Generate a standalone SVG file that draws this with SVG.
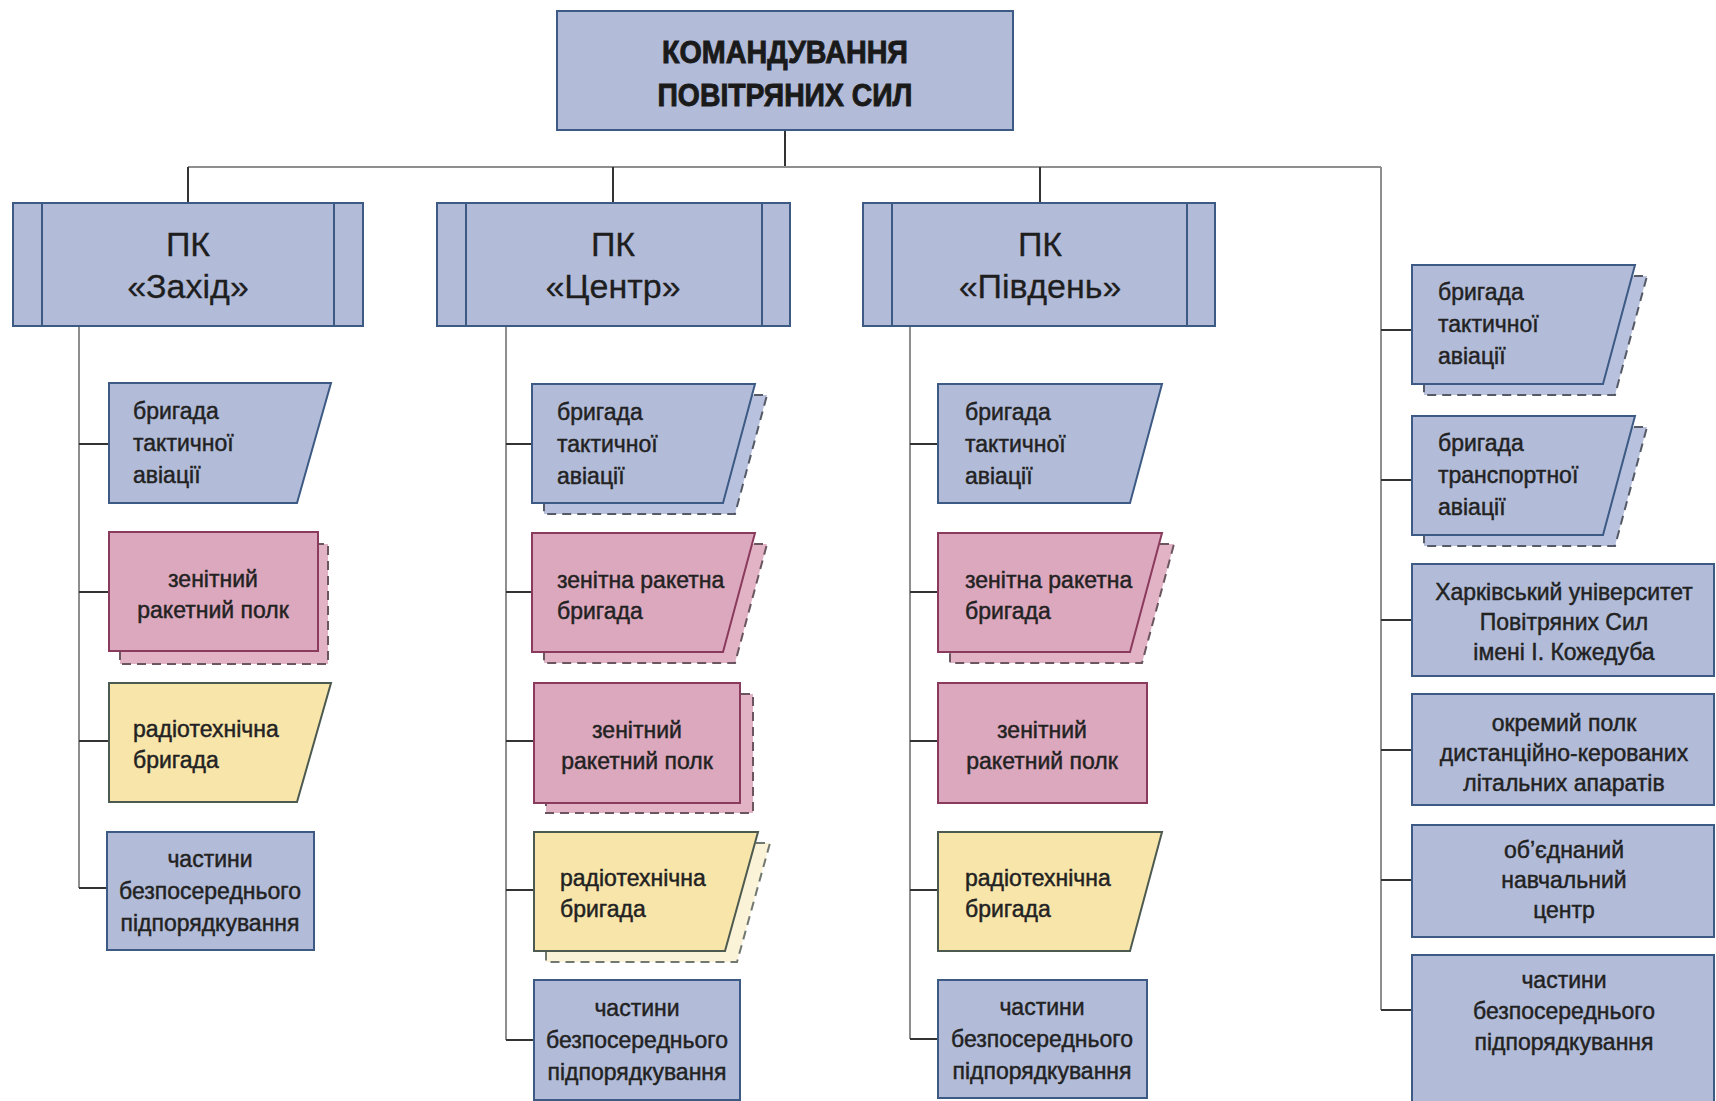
<svg xmlns="http://www.w3.org/2000/svg" width="1716" height="1101" viewBox="0 0 1716 1101">
<style>
  .bg{fill:#ffffff}
  .blue{fill:#b2bcd9;stroke:#3d5a84;stroke-width:2}
  .pink{fill:#dca8bd;stroke:#8a3a5c;stroke-width:2}
  .yellow{fill:#f8e5aa;stroke:#4c5a50;stroke-width:2}
  .sh-blue{fill:#b8c2de;stroke:#555a66;stroke-width:2;stroke-dasharray:9 6}
  .sh-pink{fill:#e1b3c5;stroke:#6a5560;stroke-width:2;stroke-dasharray:9 6}
  .sh-yellow{fill:#fbf3d8;stroke:#707870;stroke-width:2;stroke-dasharray:9 6}
  .inner{stroke:#3d5a84;stroke-width:2}
  .spine{stroke:#8e8e8e;stroke-width:2;fill:none}
  .stub{stroke:#333333;stroke-width:2;fill:none}
  text{font-family:"Liberation Sans",Arial,sans-serif;fill:#222;font-size:23px;stroke:#222;stroke-width:0.45}
  .c{text-anchor:middle}
  .pk{font-size:34px;text-anchor:middle;fill:#1e1e1e;stroke:#1e1e1e;stroke-width:0.3}
  .title{font-size:31px;font-weight:bold;text-anchor:middle;fill:#1a1a1a;stroke:#1a1a1a;stroke-width:0.9}
</style>
<rect class="bg" x="0" y="0" width="1716" height="1101"/>

<g id="connectors">
  <line class="stub" x1="785" y1="130" x2="785" y2="167"/>
  <line class="spine" x1="188" y1="167" x2="1381" y2="167"/>
  <line class="stub" x1="188" y1="167" x2="188" y2="203"/>
  <line class="stub" x1="613" y1="167" x2="613" y2="203"/>
  <line class="stub" x1="1040" y1="167" x2="1040" y2="203"/>
  <line class="spine" x1="1381" y1="167" x2="1381" y2="1010"/>
  <line class="spine" x1="79" y1="326" x2="79" y2="888"/>
  <line class="stub" x1="79" y1="444" x2="109" y2="444"/>
  <line class="stub" x1="79" y1="592" x2="109" y2="592"/>
  <line class="stub" x1="79" y1="741" x2="109" y2="741"/>
  <line class="stub" x1="79" y1="888" x2="107" y2="888"/>
  <line class="spine" x1="506" y1="326" x2="506" y2="1040"/>
  <line class="stub" x1="506" y1="444" x2="532" y2="444"/>
  <line class="stub" x1="506" y1="592" x2="532" y2="592"/>
  <line class="stub" x1="506" y1="741" x2="534" y2="741"/>
  <line class="stub" x1="506" y1="890" x2="534" y2="890"/>
  <line class="stub" x1="506" y1="1040" x2="534" y2="1040"/>
  <line class="spine" x1="910" y1="326" x2="910" y2="1039"/>
  <line class="stub" x1="910" y1="444" x2="938" y2="444"/>
  <line class="stub" x1="910" y1="592" x2="938" y2="592"/>
  <line class="stub" x1="910" y1="741" x2="938" y2="741"/>
  <line class="stub" x1="910" y1="890" x2="938" y2="890"/>
  <line class="stub" x1="910" y1="1039" x2="938" y2="1039"/>
  <line class="stub" x1="1381" y1="330" x2="1412" y2="330"/>
  <line class="stub" x1="1381" y1="480" x2="1412" y2="480"/>
  <line class="stub" x1="1381" y1="620" x2="1412" y2="620"/>
  <line class="stub" x1="1381" y1="750" x2="1412" y2="750"/>
  <line class="stub" x1="1381" y1="880" x2="1412" y2="880"/>
  <line class="stub" x1="1381" y1="1010" x2="1412" y2="1010"/>
</g>

<g id="command">
  <rect class="blue" x="557" y="11" width="456" height="119"/>
  <text class="title" x="785" y="63" textLength="246" lengthAdjust="spacingAndGlyphs">КОМАНДУВАННЯ</text>
  <text class="title" x="785" y="106" textLength="255" lengthAdjust="spacingAndGlyphs">ПОВІТРЯНИХ СИЛ</text>
</g>

<g id="pk-zakhid">
  <rect class="blue" x="13" y="203" width="350" height="123"/>
  <line class="inner" x1="42" y1="203" x2="42" y2="326"/>
  <line class="inner" x1="334" y1="203" x2="334" y2="326"/>
  <text class="pk" x="188" y="256">ПК</text>
  <text class="pk" x="188" y="298">«Захід»</text>
</g>
<g id="pk-tsentr">
  <rect class="blue" x="437" y="203" width="353" height="123"/>
  <line class="inner" x1="466" y1="203" x2="466" y2="326"/>
  <line class="inner" x1="762" y1="203" x2="762" y2="326"/>
  <text class="pk" x="613" y="256">ПК</text>
  <text class="pk" x="613" y="298">«Центр»</text>
</g>
<g id="pk-pivden">
  <rect class="blue" x="863" y="203" width="352" height="123"/>
  <line class="inner" x1="892" y1="203" x2="892" y2="326"/>
  <line class="inner" x1="1187" y1="203" x2="1187" y2="326"/>
  <text class="pk" x="1040" y="256">ПК</text>
  <text class="pk" x="1040" y="298">«Південь»</text>
</g>

<g id="z-tact">
  <polygon class="blue" points="109,383 331,383 297,503 109,503"/>
  <text x="133" y="419">бригада</text>
  <text x="133" y="451">тактичної</text>
  <text x="133" y="483">авіації</text>
</g>
<g id="z-zrp">
  <rect class="sh-pink" x="120" y="544" width="208" height="120"/>
  <rect class="pink" x="109" y="532" width="209" height="119"/>
  <text class="c" x="213" y="587">зенітний</text>
  <text class="c" x="213" y="618">ракетний полк</text>
</g>
<g id="z-rtb">
  <polygon class="yellow" points="109,683 331,683 297,802 109,802"/>
  <text x="133" y="737">радіотехнічна</text>
  <text x="133" y="768">бригада</text>
</g>
<g id="z-parts">
  <rect class="blue" x="107" y="832" width="207" height="118"/>
  <text class="c" x="210" y="867">частини</text>
  <text class="c" x="210" y="899">безпосереднього</text>
  <text class="c" x="210" y="931">підпорядкування</text>
</g>

<g id="c-tact">
  <polygon class="sh-blue" points="544,395 767,395 735,514 544,514"/>
  <polygon class="blue" points="532,384 755,384 723,503 532,503"/>
  <text x="557" y="420">бригада</text>
  <text x="557" y="452">тактичної</text>
  <text x="557" y="484">авіації</text>
</g>
<g id="c-zrb">
  <polygon class="sh-pink" points="544,544 767,544 735,663 544,663"/>
  <polygon class="pink" points="532,533 755,533 723,652 532,652"/>
  <text x="557" y="588">зенітна ракетна</text>
  <text x="557" y="619">бригада</text>
</g>
<g id="c-zrp">
  <rect class="sh-pink" x="546" y="694" width="207" height="119"/>
  <rect class="pink" x="534" y="683" width="206" height="120"/>
  <text class="c" x="637" y="738">зенітний</text>
  <text class="c" x="637" y="769">ракетний полк</text>
</g>
<g id="c-rtb">
  <polygon class="sh-yellow" points="546,843 770,843 737,962 546,962"/>
  <polygon class="yellow" points="534,832 758,832 725,951 534,951"/>
  <text x="560" y="886">радіотехнічна</text>
  <text x="560" y="917">бригада</text>
</g>
<g id="c-parts">
  <rect class="blue" x="534" y="980" width="206" height="120"/>
  <text class="c" x="637" y="1016">частини</text>
  <text class="c" x="637" y="1048">безпосереднього</text>
  <text class="c" x="637" y="1080">підпорядкування</text>
</g>

<g id="p-tact">
  <polygon class="blue" points="938,384 1162,384 1130,503 938,503"/>
  <text x="965" y="420">бригада</text>
  <text x="965" y="452">тактичної</text>
  <text x="965" y="484">авіації</text>
</g>
<g id="p-zrb">
  <polygon class="sh-pink" points="950,544 1174,544 1142,663 950,663"/>
  <polygon class="pink" points="938,533 1162,533 1130,652 938,652"/>
  <text x="965" y="588">зенітна ракетна</text>
  <text x="965" y="619">бригада</text>
</g>
<g id="p-zrp">
  <rect class="pink" x="938" y="683" width="209" height="120"/>
  <text class="c" x="1042" y="738">зенітний</text>
  <text class="c" x="1042" y="769">ракетний полк</text>
</g>
<g id="p-rtb">
  <polygon class="yellow" points="938,832 1162,832 1130,951 938,951"/>
  <text x="965" y="886">радіотехнічна</text>
  <text x="965" y="917">бригада</text>
</g>
<g id="p-parts">
  <rect class="blue" x="938" y="980" width="209" height="118"/>
  <text class="c" x="1042" y="1015">частини</text>
  <text class="c" x="1042" y="1047">безпосереднього</text>
  <text class="c" x="1042" y="1079">підпорядкування</text>
</g>

<g id="r-tact">
  <polygon class="sh-blue" points="1424,276 1647,276 1615,395 1424,395"/>
  <polygon class="blue" points="1412,265 1635,265 1603,384 1412,384"/>
  <text x="1438" y="300">бригада</text>
  <text x="1438" y="332">тактичної</text>
  <text x="1438" y="364">авіації</text>
</g>
<g id="r-trans">
  <polygon class="sh-blue" points="1424,427 1647,427 1615,546 1424,546"/>
  <polygon class="blue" points="1412,416 1635,416 1603,535 1412,535"/>
  <text x="1438" y="451">бригада</text>
  <text x="1438" y="483">транспортної</text>
  <text x="1438" y="515">авіації</text>
</g>
<g id="r-univ">
  <rect class="blue" x="1412" y="564" width="302" height="112"/>
  <text class="c" x="1564" y="600">Харківський університет</text>
  <text class="c" x="1564" y="630">Повітряних Сил</text>
  <text class="c" x="1564" y="660">імені І. Кожедуба</text>
</g>
<g id="r-drone">
  <rect class="blue" x="1412" y="694" width="302" height="111"/>
  <text class="c" x="1564" y="731">окремий полк</text>
  <text class="c" x="1564" y="761">дистанційно-керованих</text>
  <text class="c" x="1564" y="791">літальних апаратів</text>
</g>
<g id="r-train">
  <rect class="blue" x="1412" y="825" width="302" height="112"/>
  <text class="c" x="1564" y="858">об’єднаний</text>
  <text class="c" x="1564" y="888">навчальний</text>
  <text class="c" x="1564" y="918">центр</text>
</g>
<g id="r-parts">
  <rect class="blue" x="1412" y="955" width="302" height="160"/>
  <text class="c" x="1564" y="988">частини</text>
  <text class="c" x="1564" y="1019">безпосереднього</text>
  <text class="c" x="1564" y="1050">підпорядкування</text>
</g>
</svg>
